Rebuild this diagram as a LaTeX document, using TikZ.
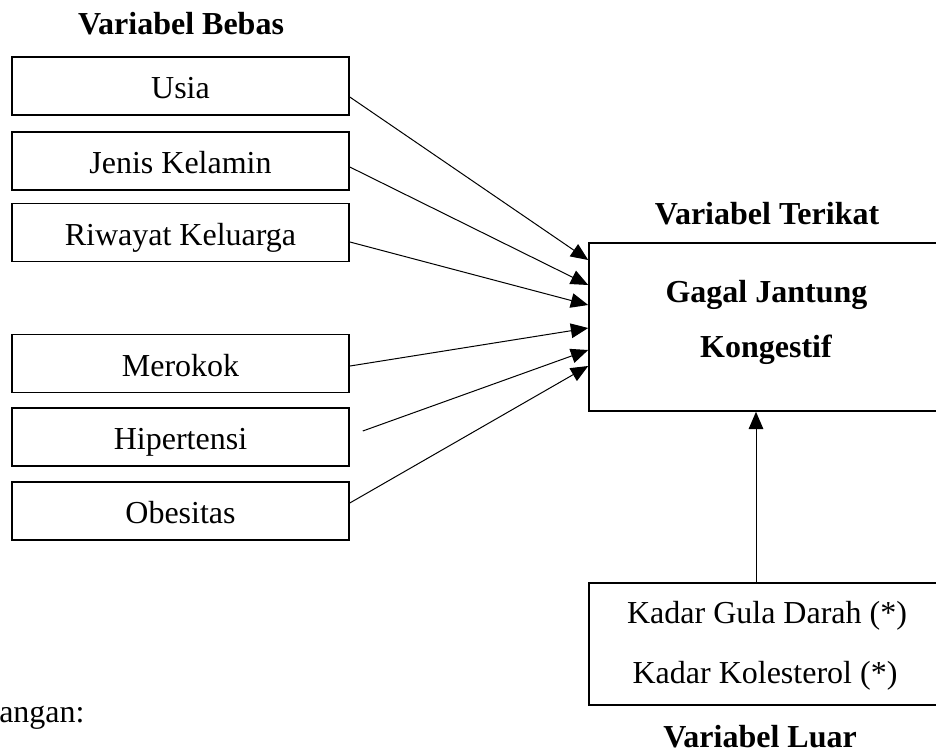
\documentclass[tikz,border=0pt]{standalone}
\usepackage{fontspec}
\setmainfont{Liberation Serif}
\usetikzlibrary{arrows.meta}
\begin{document}
\begin{tikzpicture}[x=0.75pt,y=-0.75pt,
  every node/.style={font=\fontsize{24}{28.8}\selectfont, inner sep=0pt},
  varbox/.style={draw, line width=1.2pt, minimum width=252.75pt, minimum height=43.5pt,
                 text height=21.6pt, text depth=2.4pt},
  bigbox/.style={draw, line width=1.2pt, minimum width=267pt},
  head/.style={font=\fontsize{24}{28.8}\selectfont\bfseries, anchor=base},
  txt/.style={anchor=base},
  conn/.style={line width=0.75pt, -{Triangle[length=13pt,width=11pt]}}]
\useasboundingbox (0,0) rectangle (936,753);
\clip (0,0) rectangle (936,753);

% headings
\node[head] (hbebas) at (181,35) {Variabel Bebas};
\node[head] (hterikat) at (767,224) {Variabel Terikat};
\node[head] (hluar) at (760,747) {Variabel Luar};
\node[txt, anchor=base west] (ket) at (-1,722) {angan:};

% independent variables
\node[varbox] (usia) at (180.5,86) {Usia};
\node[varbox] (jenis) at (180.5,161) {Jenis Kelamin};
\node[varbox] (riwayat) at (180.5,232.5) {Riwayat Keluarga};
\node[varbox] (merokok) at (180.5,363.5) {Merokok};
\node[varbox] (hiper) at (180.5,437) {Hipertensi};
\node[varbox] (obes) at (180.5,511) {Obesitas};

% dependent variable
\node[bigbox, minimum height=126pt] (dep) at (767,327) {};
\node[head] (dep1) at (766.5,302) {Gagal Jantung};
\node[head] (dep2) at (766,357) {Kongestif};

% outside variables
\node[bigbox, minimum height=91.5pt] (luar) at (767,644) {};
\node[txt] (luar1) at (767,623) {Kadar Gula Darah (*)};
\node[txt] (luar2) at (765,683) {Kadar Kolesterol (*)};

% connectors
\draw[conn] ([yshift=-8.25pt]usia.east) -- ([yshift=50.25pt]dep.west);
\draw[conn] ([yshift=-4.5pt]jenis.east) -- ([yshift=31.5pt]dep.west);
\draw[conn] ([yshift=-7.1pt]riwayat.east) -- ([yshift=16.5pt]dep.west);
\draw[conn] ([yshift=-1.9pt]merokok.east) -- ([yshift=-0.75pt]dep.west);
\draw[conn] ([xshift=9.75pt,yshift=4.5pt]hiper.east) -- ([yshift=-17.25pt]dep.west);
\draw[conn] ([yshift=6pt]obes.east) -- ([yshift=-29.25pt]dep.west);
\draw[conn] ([xshift=-8.25pt]luar.north) -- ([xshift=-8.25pt]dep.south);
\end{tikzpicture}
\end{document}
